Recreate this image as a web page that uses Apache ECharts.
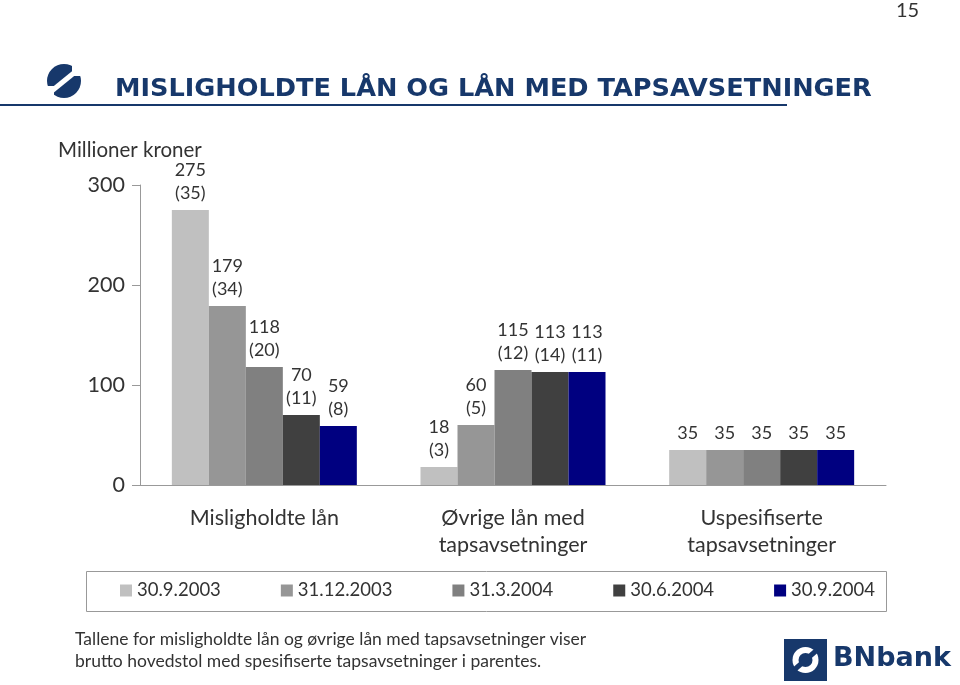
<!DOCTYPE html>
<html>
<head>
<meta charset="utf-8">
<script src="https://cdn.jsdelivr.net/npm/echarts@6/dist/echarts.min.js"></script>
<style>
html,body{margin:0;padding:0;background:#fff;}
#chart{width:960px;height:685px;}
</style>
</head>
<body>
<div id="chart"></div>
<script>
// ---- data ----
const categories = ['Misligholdte lån', 'Øvrige lån med\ntapsavsetninger', 'Uspesifiserte\ntapsavsetninger'];
const seriesNames = ['30.9.2003', '31.12.2003', '31.3.2004', '30.6.2004', '30.9.2004'];
const v_2003_09 = [275, 18, 35];
const v_2003_12 = [179, 60, 35];
const v_2004_03 = [118, 115, 35];
const v_2004_06 = [70, 113, 35];
const v_2004_09 = [59, 113, 35];
const p_2003_09 = [35, 3, null];
const p_2003_12 = [34, 5, null];
const p_2004_03 = [20, 12, null];
const p_2004_06 = [11, 14, null];
const p_2004_09 = [8, 11, null];
const yTicks = [0, 100, 200, 300];

const values = [v_2003_09, v_2003_12, v_2004_03, v_2004_06, v_2004_09];
const parens = [p_2003_09, p_2003_12, p_2004_03, p_2004_06, p_2004_09];
const colors = ['#C0C0C0', '#969696', '#808080', '#404040', '#000080'];

const FONT = 'Lato, "Open Sans", sans-serif';
const TFONT = '"DejaVu Sans", sans-serif';
const navy = '#17386B';

const chart = echarts.init(document.getElementById('chart'), null, {renderer: 'canvas'});

const series = values.map((vals, i) => ({
  name: seriesNames[i],
  type: 'bar',
  data: vals,
  barWidth: 37,
  barGap: '0%',
  itemStyle: {color: colors[i]},
  label: {
    show: true,
    position: 'top',
    distance: 5,
    color: '#333',
    fontFamily: FONT,
    fontSize: 18,
    lineHeight: 23,
    formatter: p => {
      const pr = parens[i][p.dataIndex];
      return pr == null ? String(p.value) : p.value + '\n(' + pr + ')';
    }
  }
}));

const option = {
  animation: false,
  backgroundColor: '#fff',
  color: colors,
  title: {
    text: 'MISLIGHOLDTE LÅN OG LÅN MED TAPSAVSETNINGER',
    left: 110,
    top: 71,
    textStyle: {color: navy, fontFamily: TFONT, fontWeight: 'bold', fontSize: 25.6}
  },
  grid: {left: 140, right: 74, top: 185, bottom: 200, containLabel: false},
  legend: {
    data: seriesNames,
    left: 120,
    top: 581,
    itemWidth: 12,
    itemHeight: 12,
    itemGap: 60,
    icon: 'rect',
    padding: 0,
    textStyle: {color: '#333', fontFamily: FONT, fontSize: 18.5}
  },
  xAxis: {
    type: 'category',
    data: categories,
    axisLine: {lineStyle: {color: '#999', width: 1}},
    axisTick: {show: false},
    axisLabel: {color: '#333', fontFamily: FONT, fontSize: 21.5, lineHeight: 27, margin: 20}
  },
  yAxis: {
    type: 'value',
    min: yTicks[0],
    max: yTicks[yTicks.length - 1],
    interval: 100,
    axisLine: {show: true, lineStyle: {color: '#999', width: 1}},
    axisTick: {show: true, length: 8, lineStyle: {color: '#999'}},
    splitLine: {show: false},
    axisLabel: {color: '#333', fontFamily: FONT, fontSize: 21.5, margin: 15}
  },
  graphic: [
    // legend frame
    {type: 'rect', shape: {x: 86.5, y: 571.5, width: 800, height: 40}, style: {fill: 'none', stroke: '#999', lineWidth: 1}, z: -1},
    // title underline
    {type: 'line', shape: {x1: 0, y1: 105, x2: 787, y2: 105}, style: {stroke: navy, lineWidth: 2}},
    // page number
    {type: 'text', left: 896, top: 1, style: {text: '15', fill: '#333', font: '20px ' + FONT}},
    // y axis unit
    {type: 'text', left: 58, top: 140, style: {text: 'Millioner kroner', fill: '#333', font: '20.5px ' + FONT}},
    // top-left logo
    {type: 'group', left: 42, top: 64, children: [
      {type: 'circle', shape: {cx: 20, cy: 17, r: 17}, style: {fill: navy}},
      {type: 'line', shape: {x1: 4, y1: 30, x2: 36, y2: 4}, style: {stroke: '#fff', lineWidth: 5}},
      {type: 'rect', shape: {x: 28, y: 2, width: 14, height: 10}, style: {fill: '#fff'}},
      {type: 'rect', shape: {x: -2, y: 22, width: 12, height: 12}, style: {fill: '#fff'}}
    ]},
    // footnote
    {type: 'text', left: 75, top: 628, style: {
      text: 'Tallene for misligholdte lån og øvrige lån med tapsavsetninger viser\nbrutto hovedstol med spesifiserte tapsavsetninger i parentes.',
      fill: '#333', font: '17.5px ' + FONT, lineHeight: 22}},
    // BNbank logo
    {type: 'group', left: 784, top: 639, children: [
      {type: 'rect', shape: {x: 0, y: 0, width: 43, height: 42}, style: {fill: navy}},
      {type: 'circle', shape: {cx: 21.5, cy: 21, r: 13}, style: {fill: '#fff'}},
      {type: 'circle', shape: {cx: 21.5, cy: 21, r: 7}, style: {fill: navy}},
      {type: 'line', shape: {x1: 10, y1: 31, x2: 33, y2: 11}, style: {stroke: navy, lineWidth: 5}}
    ]},
    {type: 'text', left: 833, top: 645, style: {text: 'BNbank', fill: navy, font: 'bold 27px ' + TFONT}}
  ],
  series: series
};
chart.setOption(option);
</script>
</body>
</html>
